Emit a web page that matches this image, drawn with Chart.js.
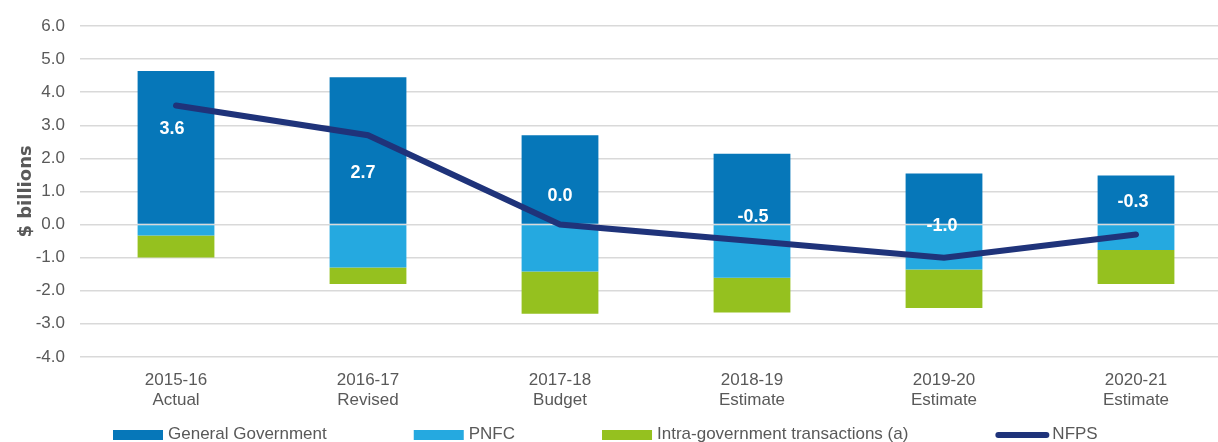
<!DOCTYPE html>
<html>
<head>
<meta charset="utf-8">
<script src="https://cdn.jsdelivr.net/npm/chart.js@4.4.1/dist/chart.umd.min.js"></script>
<style>
  html, body { margin: 0; padding: 0; background: #ffffff; overflow: hidden; width: 1218px; height: 442px; }
  canvas { display: block; }
</style>
</head>
<body>
<canvas id="chart" width="1232" height="442"></canvas>
<script>
// Categories (two-line axis labels)
const categories = [
  ['2015-16', 'Actual'],
  ['2016-17', 'Revised'],
  ['2017-18', 'Budget'],
  ['2018-19', 'Estimate'],
  ['2019-20', 'Estimate'],
  ['2020-21', 'Estimate']
];

// Series values, $ billions
const generalGovernment = [4.64, 4.45, 2.70, 2.14, 1.54, 1.48];
const pnfc              = [-0.33, -1.30, -1.42, -1.61, -1.36, -0.77];
const intraGovernment   = [-0.67, -0.50, -1.28, -1.05, -1.16, -1.03];
const nfps              = [3.6, 2.7, 0.0, -0.5, -1.0, -0.3];

// Value-axis ticks
const yTickValues = [-4, -3, -2, -1, 0, 1, 2, 3, 4, 5, 6];

// Pixel nudges for the NFPS value labels, relative to each line point
const labelShift = [[-4, 24], [-5, 38], [0, -28], [1, -24], [-2, -32], [-3, -32]];

const TEXT = '#595959';
const SANS = '"Liberation Sans", Arial, sans-serif';

// White NFPS value labels
const nfpsLabels = {
  id: 'nfpsLabels',
  afterDatasetsDraw(chart) {
    const idx = chart.data.datasets.findIndex(d => d.type === 'line');
    const meta = chart.getDatasetMeta(idx);
    const ctx = chart.ctx;
    ctx.save();
    ctx.font = 'bold 18px ' + SANS;
    ctx.fillStyle = '#ffffff';
    ctx.textAlign = 'center';
    ctx.textBaseline = 'middle';
    meta.data.forEach((pt, i) => {
      const v = chart.data.datasets[idx].data[i];
      ctx.fillText(v.toFixed(1), pt.x + labelShift[i][0], pt.y + labelShift[i][1]);
    });
    ctx.restore();
  }
};

// Legend row along the bottom edge
const bottomLegend = {
  id: 'bottomLegend',
  afterDraw(chart) {
    const ctx = chart.ctx;
    const y = chart.height - 8;
    ctx.save();
    ctx.font = '17px ' + SANS;
    ctx.textBaseline = 'middle';
    ctx.textAlign = 'left';
    let x = chart.chartArea.left + 33;
    chart.data.datasets.forEach(ds => {
      if (ds.type === 'line') {
        ctx.strokeStyle = ds.borderColor;
        ctx.lineWidth = 6;
        ctx.lineCap = 'round';
        ctx.beginPath();
        ctx.moveTo(x + 3, y + 1);
        ctx.lineTo(x + 51, y + 1);
        ctx.stroke();
        x += 57;
      } else {
        ctx.fillStyle = ds.backgroundColor;
        ctx.fillRect(x, y - 4, 50, 10);
        x += 55;
      }
      ctx.fillStyle = TEXT;
      ctx.fillText(ds.label, x, y);
      x += ctx.measureText(ds.label).width + 87;
    });
    ctx.restore();
  }
};

const barCommon = { categoryPercentage: 0.8, barPercentage: 0.5, borderWidth: 0, order: 1, stack: 'sectors' };

new Chart(document.getElementById('chart'), {
  type: 'bar',
  data: {
    labels: categories,
    datasets: [
      Object.assign({ label: 'General Government', data: generalGovernment, backgroundColor: '#0677b9' }, barCommon),
      Object.assign({ label: 'PNFC', data: pnfc, backgroundColor: '#25a9e0' }, barCommon),
      Object.assign({ label: 'Intra-government transactions (a)', data: intraGovernment, backgroundColor: '#95c11f' }, barCommon),
      {
        type: 'line',
        label: 'NFPS',
        data: nfps,
        stack: 'nfps',
        order: 0,
        borderColor: '#1f337a',
        backgroundColor: '#1f337a',
        borderWidth: 6,
        borderCapStyle: 'round',
        pointRadius: 0,
        pointHoverRadius: 0,
        tension: 0,
        fill: false
      }
    ]
  },
  options: {
    responsive: false,
    animation: false,
    devicePixelRatio: 1,
    layout: { padding: { left: 12, top: 26, right: 0, bottom: 19 } },
    plugins: {
      legend: { display: false },
      tooltip: { enabled: false }
    },
    scales: {
      x: {
        stacked: true,
        grid: { display: false, drawTicks: false },
        border: { display: false },
        ticks: {
          color: TEXT,
          font: { family: SANS, size: 17, lineHeight: 1.18 },
          padding: 13,
          maxRotation: 0,
          autoSkip: false
        }
      },
      y: {
        stacked: true,
        min: -4,
        max: 6,
        afterBuildTicks: scale => { scale.ticks = yTickValues.map(v => ({ value: v })); },
        afterFit: scale => { scale.width = 68; },
        grid: { color: '#d9d9d9', lineWidth: 1.5, drawTicks: false },
        border: { display: false },
        ticks: {
          color: TEXT,
          font: { family: SANS, size: 17 },
          padding: 15,
          callback: v => Number(v).toFixed(1)
        },
        title: {
          display: true,
          text: '$ billions',
          color: TEXT,
          font: { family: '"DejaVu Sans", sans-serif', size: 18, weight: 'bold' },
          padding: { top: 4, bottom: 0 }
        }
      }
    }
  },
  plugins: [nfpsLabels, bottomLegend]
});
</script>
</body>
</html>
